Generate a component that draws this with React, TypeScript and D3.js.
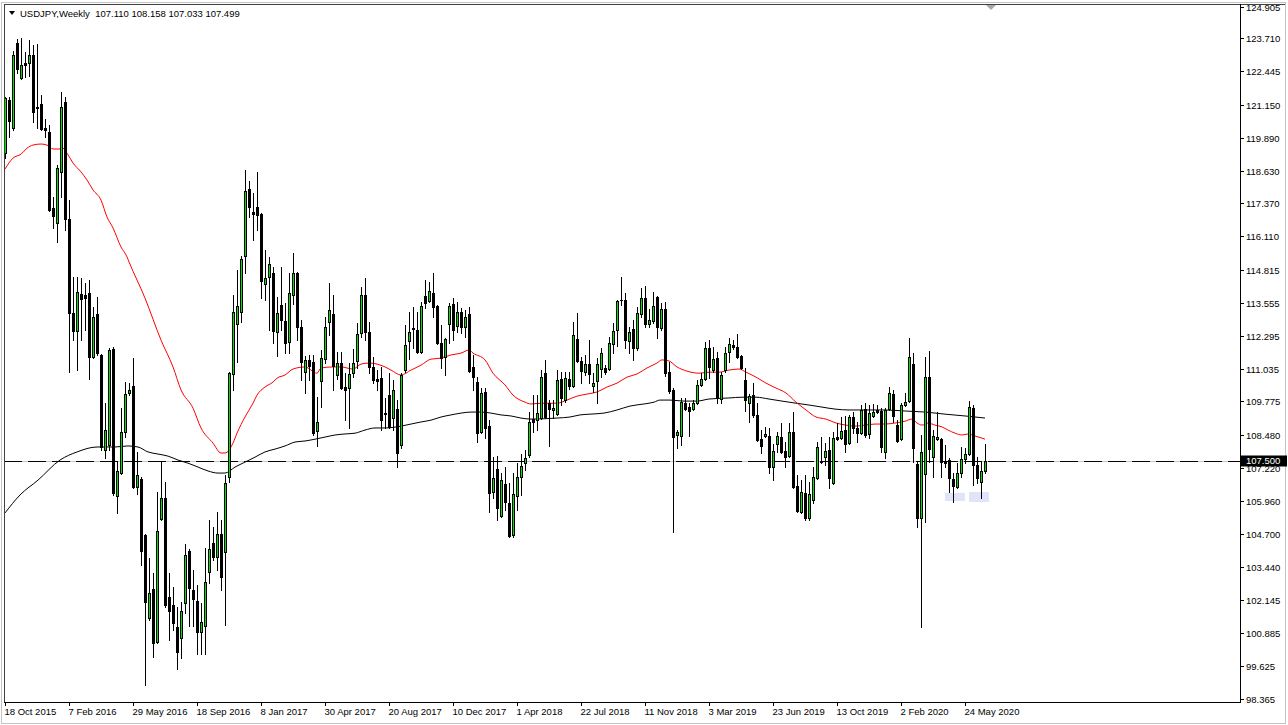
import * as d3 from 'd3';

// weekly USDJPY bars, oldest first (week 0 = 18 Oct 2015)
const opens = [
  119.30, 121.34, 120.26, 123.52, 122.18, 122.75, 122.75, 123.07, 121.07, 121.19,
  120.26, 120.11, 117.19, 116.62, 118.58, 121.26, 116.78, 113.17, 112.48, 113.90,
  113.86, 113.94, 111.48, 113.13, 111.56, 107.91, 108.10, 111.79, 106.15, 107.03,
  108.60, 110.10, 110.37, 106.50, 106.80, 104.65, 101.48, 102.58, 100.55, 105.27,
  106.08, 102.27, 101.97, 101.12, 100.70, 102.04, 104.04, 102.54, 102.12, 100.93,
  101.16, 103.23, 104.35, 103.81, 104.69, 104.00, 106.88, 110.83, 112.75, 113.21,
  115.36, 117.92, 117.04, 117.23, 116.97, 114.28, 114.55, 114.70, 112.44, 113.48,
  112.86, 112.05, 113.86, 114.70, 112.63, 110.90, 111.37, 111.29, 108.64, 110.56,
  111.40, 112.82, 113.13, 110.79, 111.25, 110.33, 110.29, 110.86, 111.33, 112.40,
  113.86, 112.44, 111.10, 110.64, 110.67, 109.29, 110.02, 109.14, 109.48, 108.11,
  110.98, 112.09, 112.59, 112.52, 111.67, 113.82, 113.63, 113.94, 113.44, 112.02,
  111.48, 112.75, 113.51, 112.67, 113.21, 112.63, 113.13, 111.10, 110.52, 108.60,
  110.14, 108.83, 106.30, 107.19, 105.38, 106.61, 105.88, 104.65, 106.15, 106.88,
  107.41, 107.72, 109.10, 109.06, 109.14, 110.86, 109.71, 109.45, 109.29, 110.64,
  109.83, 110.64, 110.37, 112.17, 111.33, 110.90, 111.21, 110.37, 110.56, 111.02,
  111.06, 111.02, 111.98, 112.52, 113.67, 113.67, 112.09, 112.55, 111.83, 113.13,
  113.74, 112.75, 112.86, 113.78, 112.59, 113.32, 110.90, 110.22, 108.49, 108.45,
  109.71, 109.56, 109.48, 109.71, 110.41, 110.64, 111.83, 110.98, 111.44, 109.87,
  110.98, 111.67, 111.94, 111.86, 111.52, 110.60, 109.71, 110.02, 109.26, 108.33,
  108.45, 108.45, 107.26, 108.14, 108.41, 107.88, 107.68, 108.60, 106.53, 105.53,
  106.27, 105.31, 106.00, 106.84, 107.45, 107.64, 107.91, 106.65, 108.41, 108.37,
  108.68, 108.18, 109.18, 108.76, 108.56, 109.48, 108.53, 109.22, 109.45, 109.41,
  107.84, 109.48, 110.06, 108.87, 108.33, 109.64, 109.79, 111.21, 107.38, 105.31,
  106.99, 110.71, 107.64, 108.33, 108.33, 107.45, 107.53, 106.80, 106.50, 107.03,
  107.57, 107.76, 109.52, 107.34, 106.69, 107.11,
];
const highs = [
  121.45, 121.45, 123.22, 123.67, 123.71, 123.18, 123.64, 123.45, 123.49, 121.53,
  120.61, 120.38, 117.62, 118.85, 121.64, 121.45, 117.50, 114.55, 114.55, 114.51,
  114.32, 114.43, 113.40, 113.78, 111.60, 109.71, 111.83, 111.86, 107.45, 109.52,
  110.52, 110.48, 111.44, 107.84, 106.88, 104.70, 103.77, 103.20, 106.30, 107.45,
  106.69, 103.20, 102.66, 101.89, 102.08, 104.31, 104.12, 103.31, 102.73, 102.04,
  104.16, 105.23, 104.96, 105.53, 105.23, 106.96, 110.90, 113.86, 114.82, 115.36,
  118.65, 118.23, 117.77, 118.58, 116.99, 115.59, 115.32, 114.93, 113.78, 114.93,
  113.55, 114.70, 115.47, 114.74, 112.90, 111.52, 111.56, 111.56, 109.94, 111.75,
  113.02, 114.32, 113.86, 111.67, 111.67, 110.86, 111.25, 111.79, 112.78, 114.16,
  114.51, 112.82, 111.48, 110.98, 111.10, 109.91, 110.86, 110.60, 109.83, 110.86,
  112.71, 113.21, 113.40, 113.21, 113.59, 114.43, 114.36, 114.70, 113.48, 112.71,
  112.21, 113.55, 113.74, 113.59, 113.36, 113.28, 113.40, 111.56, 110.71, 110.29,
  110.29, 109.06, 107.64, 107.68, 107.03, 107.26, 106.65, 107.03, 107.41, 107.76,
  107.91, 109.37, 110.02, 110.02, 110.98, 111.37, 109.83, 109.83, 110.98, 110.90,
  110.90, 110.90, 112.82, 113.17, 111.48, 111.56, 112.13, 110.86, 111.44, 111.83,
  111.17, 112.25, 112.78, 113.67, 114.55, 113.94, 112.63, 112.90, 113.40, 114.12,
  114.20, 113.32, 113.97, 113.82, 113.55, 113.59, 111.29, 110.29, 108.68, 109.91,
  109.91, 109.71, 109.83, 110.60, 110.86, 112.05, 112.13, 111.86, 111.67, 110.90,
  111.86, 112.21, 112.13, 112.36, 111.56, 111.06, 110.06, 110.48, 109.71, 108.68,
  108.80, 108.76, 108.14, 108.60, 108.95, 108.22, 108.95, 109.37, 106.96, 106.76,
  106.96, 106.69, 107.26, 108.22, 108.41, 108.18, 108.41, 108.60, 108.95, 109.18,
  109.22, 109.26, 109.37, 108.99, 109.64, 109.71, 109.64, 109.68, 109.64, 109.52,
  109.52, 110.33, 110.22, 109.06, 109.71, 110.10, 112.21, 111.63, 107.45, 108.49,
  111.48, 111.71, 108.68, 109.37, 108.37, 108.10, 107.60, 107.03, 107.41, 108.03,
  107.99, 109.79, 109.64, 107.64, 107.45, 108.158,
];
const lows = [
  119.11, 119.92, 120.19, 122.37, 122.14, 122.22, 122.26, 120.49, 120.26, 120.19,
  119.92, 117.08, 116.43, 115.89, 117.62, 116.35, 110.90, 112.13, 110.98, 112.13,
  112.52, 110.64, 111.44, 111.56, 107.91, 107.60, 107.91, 106.19, 105.50, 106.98,
  108.41, 110.02, 106.46, 106.23, 103.50, 98.90, 101.39, 99.98, 100.51, 105.23,
  101.89, 100.63, 101.01, 99.52, 99.94, 101.66, 101.16, 101.16, 100.09, 100.09,
  100.09, 102.81, 103.70, 103.31, 102.54, 101.20, 106.69, 110.22, 111.29, 112.82,
  114.70, 116.85, 115.97, 116.35, 113.74, 113.67, 112.52, 112.02, 111.52, 112.52,
  111.63, 111.63, 113.51, 112.13, 110.60, 110.10, 110.60, 108.49, 108.07, 109.56,
  111.25, 112.32, 110.22, 110.64, 110.25, 109.06, 108.76, 110.71, 111.06, 112.25,
  112.13, 110.86, 110.48, 110.22, 108.68, 108.76, 108.76, 108.68, 107.26, 107.99,
  110.90, 111.40, 111.83, 111.63, 111.63, 113.36, 113.59, 113.02, 111.98, 111.06,
  110.79, 112.02, 112.13, 112.44, 112.40, 112.25, 110.90, 110.22, 108.22, 108.56,
  108.37, 105.53, 106.08, 105.23, 105.34, 105.61, 104.58, 104.56, 105.61, 106.19,
  107.15, 107.64, 108.60, 108.68, 109.10, 109.14, 108.07, 109.14, 109.26, 109.64,
  109.75, 110.25, 110.33, 111.29, 110.48, 110.79, 110.48, 110.14, 109.71, 110.71,
  110.83, 110.98, 111.63, 111.90, 113.48, 111.83, 111.63, 111.37, 111.75, 113.02,
  112.63, 112.63, 112.78, 112.21, 112.52, 110.75, 110.10, 104.77, 108.00, 108.11,
  109.45, 108.45, 109.45, 109.68, 110.37, 110.60, 110.67, 110.90, 109.71, 109.71,
  110.90, 111.29, 111.79, 111.44, 111.02, 109.41, 109.00, 109.18, 108.26, 107.80,
  108.41, 107.03, 106.76, 107.84, 107.80, 107.26, 107.64, 106.46, 105.53, 105.50,
  105.23, 105.23, 105.88, 106.80, 107.41, 107.34, 106.46, 106.61, 108.30, 108.33,
  107.84, 108.14, 108.56, 108.22, 108.52, 108.41, 108.37, 109.18, 109.33, 107.84,
  107.60, 109.45, 109.00, 108.22, 108.30, 109.60, 109.75, 107.45, 104.96, 101.12,
  105.15, 107.45, 106.88, 108.30, 106.88, 107.26, 106.30, 105.92, 106.46, 106.88,
  107.41, 107.72, 106.57, 106.65, 106.08, 107.033,
];
const closes = [
  121.41, 120.53, 123.07, 122.52, 122.68, 122.68, 123.07, 120.87, 121.03, 120.22,
  120.19, 117.12, 116.89, 118.73, 121.07, 116.78, 113.17, 112.48, 113.97, 113.71,
  113.74, 111.48, 113.02, 111.63, 108.03, 108.68, 111.75, 106.27, 107.11, 108.60,
  110.06, 110.22, 106.50, 106.96, 104.04, 102.08, 102.43, 100.51, 104.81, 106.08,
  101.97, 101.74, 101.28, 100.17, 101.74, 103.89, 102.62, 102.20, 100.93, 101.31,
  102.85, 104.12, 103.81, 104.69, 103.04, 106.65, 110.86, 113.21, 113.44, 115.24,
  117.85, 117.23, 116.97, 116.93, 114.39, 114.51, 115.05, 112.48, 113.17, 112.90,
  112.02, 113.94, 114.70, 112.63, 111.29, 111.37, 111.13, 108.56, 108.99, 111.44,
  112.63, 113.28, 111.13, 111.25, 110.29, 110.22, 110.83, 111.25, 112.36, 113.86,
  112.44, 111.10, 110.60, 110.58, 109.06, 109.33, 108.80, 110.22, 107.80, 110.79,
  111.94, 112.44, 112.55, 111.67, 113.44, 113.55, 114.01, 113.40, 112.02, 111.44,
  112.17, 113.44, 112.52, 113.21, 112.63, 113.02, 110.94, 110.71, 108.56, 110.10,
  108.76, 106.27, 106.84, 105.69, 106.76, 105.92, 104.62, 106.23, 106.88, 107.30,
  107.60, 108.99, 108.99, 109.33, 110.71, 109.18, 109.48, 109.52, 110.60, 109.91,
  110.67, 110.37, 112.32, 111.33, 110.94, 111.21, 110.83, 110.48, 111.21, 111.63,
  110.90, 112.02, 112.48, 113.63, 113.65, 112.13, 112.44, 111.83, 113.17, 113.74,
  112.75, 112.90, 113.44, 112.63, 113.32, 110.86, 110.18, 108.41, 108.60, 109.75,
  109.48, 109.41, 109.71, 110.41, 110.64, 111.83, 111.10, 111.40, 109.91, 110.79,
  111.63, 111.98, 111.86, 111.48, 111.06, 109.83, 109.98, 109.26, 108.30, 108.07,
  108.53, 107.26, 107.88, 108.45, 107.84, 107.64, 108.60, 106.50, 105.57, 106.30,
  105.31, 106.23, 106.88, 108.03, 107.49, 107.88, 106.84, 108.37, 108.33, 108.64,
  108.14, 109.18, 108.76, 108.56, 109.45, 108.49, 109.33, 109.37, 109.37, 108.03,
  109.45, 110.10, 109.22, 108.26, 109.64, 109.75, 111.48, 107.99, 105.31, 107.84,
  110.71, 107.95, 108.45, 108.41, 107.45, 107.41, 106.84, 106.53, 107.03, 107.57,
  107.76, 109.56, 107.34, 106.84, 107.11, 107.499,
];

// moving averages (week index, price)
const maRedWeek = [
  0, 2, 4, 5.5, 7, 9, 10.5, 12, 14, 14.5, 15.5, 17, 19, 20.5, 22, 24, 25.5, 27, 29, 30.5,
  31, 35, 39, 42, 44, 47, 49, 52, 54, 55, 57, 58, 60, 62, 63, 65, 67, 68, 70, 72,
  75, 78, 79, 82, 84, 87, 89, 91, 93, 95, 96.5, 99, 101.5, 104, 106.5, 109, 111.5, 114, 116, 117,
  120, 122, 125, 127, 130, 131.5, 134, 138, 140.5, 143, 145.5, 148, 150.5, 153, 155.5, 158, 160.5, 163, 164.25, 166,
  168, 170.5, 173.5, 176, 178.5, 181, 183.5, 185.25, 187.75, 190.25, 192.75, 195.25, 197.75, 200.25, 202.75, 205.25, 207.75, 210.25, 212.5, 215,
  217.5, 220, 222.5, 225, 226.75, 228, 229.25, 230.75, 232.5, 234.25, 235.75, 237.5, 239.25, 240.75, 242.5, 244.25, 245,
];
const maRedValue = [
  118.69, 119.11, 119.26, 119.49, 119.61, 119.65, 119.61, 119.46, 119.46, 119.49, 119.30, 118.92, 118.58, 118.27, 117.89, 117.50, 116.85, 116.43, 115.70, 115.32,
  115.13, 113.74, 112.13, 111.10, 110.22, 109.52, 108.76, 108.18, 107.80, 107.80, 108.18, 108.56, 109.18, 109.71, 110.02, 110.33, 110.52, 110.67, 110.79, 111.02,
  111.10, 110.86, 111.06, 111.10, 111.10, 111.02, 111.21, 111.25, 111.21, 111.10, 110.98, 110.79, 110.98, 111.17, 111.40, 111.44, 111.56, 111.63, 111.75, 111.63,
  111.37, 110.86, 110.41, 110.02, 109.75, 109.68, 109.71, 109.71, 109.83, 109.98, 110.06, 110.14, 110.33, 110.48, 110.71, 110.83, 111.06, 111.25, 111.37, 111.33,
  111.10, 110.94, 110.86, 110.90, 110.90, 110.98, 111.02, 110.90, 110.71, 110.48, 110.29, 110.10, 109.75, 109.45, 109.18, 109.10, 108.95, 108.87, 108.83, 108.87,
  108.91, 108.91, 108.95, 109.02, 109.10, 108.95, 108.87, 108.95, 108.87, 108.80, 108.68, 108.56, 108.49, 108.53, 108.45, 108.37, 108.33,
];
const maBlackWeek = [
  0, 3.75, 8.25, 13.75, 18, 23, 27.5, 30.75, 33.25, 35.75, 38.25, 40.75, 43.25, 45.75, 48.25, 50.75, 53.25, 55, 57.5, 60,
  62.5, 65, 67.5, 70, 72.5, 75, 77.5, 80, 82.5, 85, 87.5, 90, 92.5, 95, 99, 101.5, 104, 106.5, 109, 111.5,
  114, 116.5, 119, 121.5, 124, 126.5, 129, 131.5, 138, 141.25, 143.75, 146.25, 149.75, 153, 156.25, 159.75, 162.25, 163.75, 166.25, 169.75,
  173, 176, 181, 184.25, 187.75, 191, 194.25, 197.75, 201, 204.25, 207.75, 211, 215, 220, 225, 230, 235, 240, 245,
];
const maBlackValue = [
  105.50, 106.19, 106.76, 107.53, 107.84, 108.03, 108.03, 108.07, 108.03, 107.84, 107.76, 107.68, 107.53, 107.41, 107.26, 107.11, 107.03, 107.03, 107.26, 107.45,
  107.64, 107.84, 107.95, 108.07, 108.22, 108.26, 108.33, 108.41, 108.49, 108.53, 108.56, 108.68, 108.76, 108.76, 108.83, 108.91, 108.99, 109.06, 109.18, 109.26,
  109.33, 109.37, 109.37, 109.33, 109.26, 109.22, 109.14, 109.10, 109.14, 109.18, 109.26, 109.29, 109.33, 109.45, 109.60, 109.68, 109.75, 109.83, 109.83, 109.79,
  109.79, 109.87, 109.91, 109.94, 109.94, 109.87, 109.79, 109.71, 109.64, 109.56, 109.48, 109.45, 109.45, 109.45, 109.41, 109.37, 109.29, 109.22, 109.14,
];

// drawn rectangles on the chart: [week from, week to, price low, price high]
const zones: [number, number, number, number][] = [
  [235, 240, 105.96, 106.27],
  [241, 246, 105.92, 106.30],
];

const priceTicks = [
  124.905, 123.71, 122.445, 121.15, 119.89, 118.63, 117.37, 116.11, 114.815, 113.555, 112.295,
  111.035, 109.775, 108.48, 107.22, 105.96, 104.7, 103.44, 102.145, 100.885, 99.625, 98.365,
];
const dateTickWeeks = [0, 16, 32, 48, 64, 80, 96, 112, 128, 144, 160, 176, 192, 208, 224, 240];
const dateTickLabels = [
  '18 Oct 2015', '7 Feb 2016', '29 May 2016', '18 Sep 2016', '8 Jan 2017', '30 Apr 2017',
  '20 Aug 2017', '10 Dec 2017', '1 Apr 2018', '22 Jul 2018', '11 Nov 2018', '3 Mar 2019',
  '23 Jun 2019', '13 Oct 2019', '2 Feb 2020', '24 May 2020',
];

const bidPrice = 107.5;
const header = 'USDJPY,Weekly  107.110 108.158 107.033 107.499';

const W = 1288;
const H = 725;
const LEFT = 4;
const RIGHT = 1240;
const TOP = 4;
const BOTTOM = 702;
const FONT = '"Liberation Sans", Arial, sans-serif';
const BULL = '#00e400';

export default function App() {
  const x = d3.scaleLinear().domain([0, 245]).range([5, 985]);
  const y = d3.scaleLinear().domain([98.365, 124.905]).range([699, 7]);

  const redPath =
    d3
      .line<number>()
      .x((w) => x(w))
      .y((_, i) => y(maRedValue[i]))
      .curve(d3.curveMonotoneX)(maRedWeek) ?? '';
  const blackPath =
    d3
      .line<number>()
      .x((w) => x(w))
      .y((_, i) => y(maBlackValue[i]))
      .curve(d3.curveMonotoneX)(maBlackWeek) ?? '';

  const bidY = Math.round(y(bidPrice)) + 0.5;

  return (
    <svg
      width={W}
      height={H}
      viewBox={`0 0 ${W} ${H}`}
      style={{ position: 'absolute', left: 0, top: 0, background: '#fff' }}
      fontFamily={FONT}
    >
      <defs>
        <clipPath id="plot">
          <rect x={LEFT} y={TOP} width={RIGHT - LEFT} height={BOTTOM - TOP} />
        </clipPath>
      </defs>
      <rect x={1.5} y={2.5} width={W - 4} height={H - 4} fill="#fff" stroke="#c4c4c4" />

      <g clipPath="url(#plot)">
        {zones.map(([w0, w1, p0, p1], k) => (
          <rect
            key={k}
            x={x(w0)}
            y={y(p1)}
            width={x(w1) - x(w0)}
            height={y(p0) - y(p1)}
            fill="#e1e3f8"
          />
        ))}

        <line x1={LEFT} x2={RIGHT} y1={bidY} y2={bidY} stroke="#c8c8c8" />
        <line x1={LEFT} x2={RIGHT} y1={bidY} y2={bidY} stroke="#000" strokeDasharray="18 6" />

        <path d={blackPath} fill="none" stroke="#000" strokeWidth={1} />
        <path d={redPath} fill="none" stroke="#ff0000" strokeWidth={1} />

        <g shapeRendering="crispEdges">
          {opens.map((o, i) => {
            const c = closes[i];
            const cx = Math.round(x(i));
            const top = Math.round(y(Math.max(o, c)));
            const bot = Math.round(y(Math.min(o, c)));
            const bull = c > o;
            return (
              <g key={i}>
                <line
                  x1={cx + 0.5}
                  x2={cx + 0.5}
                  y1={Math.round(y(highs[i]))}
                  y2={Math.round(y(lows[i])) + 1}
                  stroke="#000"
                />
                {bot - top < 1 ? (
                  <line x1={cx - 1} x2={cx + 2} y1={top + 0.5} y2={top + 0.5} stroke="#000" />
                ) : (
                  <rect
                    x={cx - 0.5}
                    y={top + 0.5}
                    width={2}
                    height={bot - top}
                    fill={bull ? BULL : '#000'}
                    stroke="#000"
                  />
                )}
              </g>
            );
          })}
        </g>
      </g>

      {/* chart shift marker */}
      <path d="M985,4 L997,4 L991,10 Z" fill="#a8a8a8" />

      {/* frame and axes */}
      <g shapeRendering="crispEdges">
        <line x1={LEFT + 0.5} x2={LEFT + 0.5} y1={TOP} y2={BOTTOM} stroke="#404040" />
        <line x1={LEFT} x2={W - 3} y1={TOP + 0.5} y2={TOP + 0.5} stroke="#404040" />
        <line x1={LEFT} x2={RIGHT + 1} y1={BOTTOM + 0.5} y2={BOTTOM + 0.5} stroke="#000" />
        <line x1={RIGHT + 0.5} x2={RIGHT + 0.5} y1={TOP} y2={BOTTOM + 1} stroke="#000" />
      </g>

      {priceTicks.map((p) => {
        const py = Math.round(y(p)) + 0.5;
        return (
          <g key={p}>
            <line x1={RIGHT} x2={RIGHT + 4} y1={py} y2={py} stroke="#000" shapeRendering="crispEdges" />
            <text x={RIGHT + 6} y={py} dy="0.35em" fontSize={9.5} fill="#000">
              {p.toFixed(3)}
            </text>
          </g>
        );
      })}

      <rect x={RIGHT + 1} y={bidY - 6} width={W - RIGHT - 2} height={11} fill="#000" />
      <text x={RIGHT + 6} y={bidY - 0.5} dy="0.35em" fontSize={9.5} fill="#fff">
        {bidPrice.toFixed(3)}
      </text>

      {dateTickWeeks.map((w, k) => {
        const tx = Math.round(x(w)) + 0.5;
        return (
          <g key={w}>
            <line x1={tx} x2={tx} y1={BOTTOM} y2={BOTTOM + 4} stroke="#000" shapeRendering="crispEdges" />
            <text x={tx - 1} y={715} fontSize={9.5} fill="#000">
              {dateTickLabels[k]}
            </text>
          </g>
        );
      })}

      <path d="M9,11 L15,11 L12,15 Z" fill="#000" />
      <text x={20} y={16.5} fontSize={9.5} fill="#000" style={{ whiteSpace: 'pre' }}>
        {header}
      </text>
    </svg>
  );
}
